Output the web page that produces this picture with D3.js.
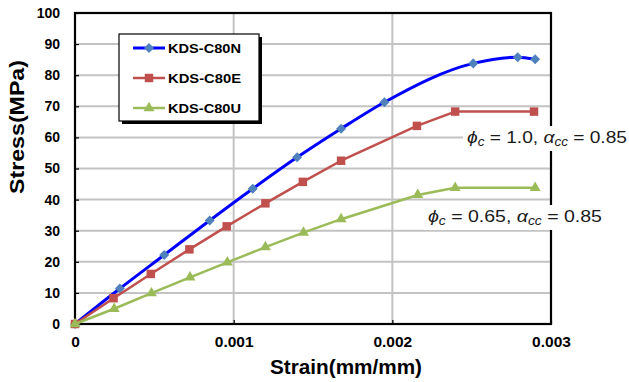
<!DOCTYPE html>
<html>
<head>
<meta charset="utf-8">
<script src="https://cdn.jsdelivr.net/npm/d3@7"></script>
<style>
  html, body { margin: 0; padding: 0; background: #fff; }
  svg { display: block; }
  text { font-family: "Liberation Sans", Arial, sans-serif; }
</style>
</head>
<body>
<svg id="chart" width="629" height="382"></svg>
<script>
// Stress–strain curves for the three KDS-C80 models
const seriesNames = ["KDS-C80N", "KDS-C80E", "KDS-C80U"];

const nStrain = [0, 0.000283, 0.000562, 0.000849, 0.00112, 0.0014, 0.001677, 0.00195, 0.00251, 0.00279, 0.0029];
const nStress = [0, 11.4, 22.2, 33.3, 43.5, 53.6, 62.8, 71.3, 83.8, 85.8, 85.1];

const eStrain = [0, 0.000243, 0.000478, 0.000721, 0.000956, 0.0012, 0.001436, 0.001677, 0.002155, 0.002396, 0.002893];
const eStress = [0, 8.3, 16.1, 24.0, 31.4, 38.8, 45.7, 52.5, 63.7, 68.3, 68.3];

const uStrain = [0, 0.000247, 0.000482, 0.000725, 0.00096, 0.0012, 0.00144, 0.001677, 0.00216, 0.002396, 0.0029];
const uStress = [0, 4.9, 9.9, 15.0, 19.8, 24.7, 29.4, 33.7, 41.5, 43.8, 43.8];

const xTicks = [0, 0.001, 0.002, 0.003];
const xTickLabels = ["0", "0.001", "0.002", "0.003"];
const yTicks = [0, 10, 20, 30, 40, 50, 60, 70, 80, 90, 100];

const svg = d3.select("#chart");
const L = 75, R = 551, T = 13, B = 324;

const x = d3.scaleLinear().domain([0, 0.003]).range([L, R]);
const y = d3.scaleLinear().domain([0, 100]).range([B, T]);

// gridlines
const grid = svg.append("g");
grid.selectAll("line.h").data(yTicks).join("line")
  .attr("x1", L).attr("x2", R)
  .attr("y1", d => y(d)).attr("y2", d => y(d))
  .attr("stroke", "#c3c3c3").attr("stroke-width", 2);
grid.selectAll("line.v").data(xTicks.slice(1, -1)).join("line")
  .attr("x1", d => x(d)).attr("x2", d => x(d))
  .attr("y1", T).attr("y2", B)
  .attr("stroke", "#c3c3c3").attr("stroke-width", 2);

// axes with inward ticks
const yAxis = d3.axisLeft(y).tickValues(yTicks).tickSize(-4).tickPadding(15).tickFormat(d3.format("d"));
const gy = svg.append("g").attr("transform", `translate(${L},0)`).call(yAxis);
gy.select(".domain").remove();
gy.selectAll(".tick line").attr("stroke", "#000").attr("stroke-width", 1.2);
gy.selectAll(".tick text").attr("font-size", 14).attr("font-weight", "bold")
  .attr("fill", "#000").attr("font-family", "Liberation Sans, Arial, sans-serif");

const xAxis = d3.axisBottom(x).tickValues(xTicks).tickSize(-4).tickPadding(12)
  .tickFormat((d, i) => xTickLabels[i]);
const gx = svg.append("g").attr("transform", `translate(0,${B})`).call(xAxis);
gx.select(".domain").remove();
gx.selectAll(".tick line").attr("stroke", "#000").attr("stroke-width", 1.2);
gx.selectAll(".tick text").attr("font-size", 15.5).attr("font-weight", "bold")
  .attr("fill", "#000").attr("font-family", "Liberation Sans, Arial, sans-serif");

// plot frame
svg.append("rect").attr("x", L).attr("y", T).attr("width", R - L).attr("height", B - T)
  .attr("fill", "none").attr("stroke", "#000").attr("stroke-width", 2.2);

// axis titles
svg.append("text").attr("transform", "translate(24,127) rotate(-90)")
  .attr("text-anchor", "middle").attr("font-size", 21).attr("font-weight", "bold")
  .attr("textLength", 134).attr("lengthAdjust", "spacingAndGlyphs")
  .text("Stress(MPa)");
svg.append("text").attr("x", 346).attr("y", 374)
  .attr("text-anchor", "middle").attr("font-size", 20).attr("font-weight", "bold")
  .attr("textLength", 152).attr("lengthAdjust", "spacingAndGlyphs")
  .text("Strain(mm/mm)");

// series
const series = [
  { name: seriesNames[0], xs: nStrain, ys: nStress, line: "#0000ff", mark: "#4f81bd", width: 3, shape: "diamond", curve: d3.curveMonotoneX },
  { name: seriesNames[1], xs: eStrain, ys: eStress, line: "#c0504d", mark: "#c0504d", width: 2.5, shape: "square", curve: d3.curveLinear },
  { name: seriesNames[2], xs: uStrain, ys: uStress, line: "#9bbb59", mark: "#9bbb59", width: 2.5, shape: "triangle", curve: d3.curveLinear }
];

function markerPath(shape) {
  if (shape === "diamond") return d3.symbol(d3.symbolDiamond2, 64)();
  if (shape === "square") return d3.symbol(d3.symbolSquare, 72)();
  return d3.symbol(d3.symbolTriangle, 52)();
}

series.forEach(s => {
  const pts = s.xs.map((v, i) => [v, s.ys[i]]);
  const g = svg.append("g");
  g.append("path").datum(pts)
    .attr("d", d3.line().x(d => x(d[0])).y(d => y(d[1])).curve(s.curve))
    .attr("fill", "none").attr("stroke", s.line).attr("stroke-width", s.width)
    .attr("stroke-linejoin", "round");
  g.selectAll("path.m").data(pts).join("path")
    .attr("class", "m")
    .attr("d", markerPath(s.shape))
    .attr("transform", d => `translate(${x(d[0])},${y(d[1])})`)
    .attr("fill", s.mark);
});

// legend
const lg = svg.append("g");
lg.append("rect").attr("x", 122).attr("y", 37).attr("width", 140).attr("height", 87).attr("fill", "#000");
lg.append("rect").attr("x", 119).attr("y", 34).attr("width", 140).attr("height", 87)
  .attr("fill", "#fff").attr("stroke", "#000").attr("stroke-width", 1.2);
series.forEach((s, i) => {
  const ly = 48 + i * 30;
  lg.append("line").attr("x1", 133).attr("x2", 165).attr("y1", ly).attr("y2", ly)
    .attr("stroke", s.line).attr("stroke-width", s.width);
  lg.append("path").attr("d", markerPath(s.shape))
    .attr("transform", `translate(149,${ly})`).attr("fill", s.mark);
  lg.append("text").attr("x", 168).attr("y", ly + 5)
    .attr("font-size", 13.5).attr("font-weight", "bold")
    .attr("textLength", 73).attr("lengthAdjust", "spacingAndGlyphs")
    .text(s.name);
});

// design-factor annotations
function annotate(xStart, yMid, phi, width) {
  const g = svg.append("g");
  const bg = g.append("rect").attr("fill", "#fff");
  const t = g.append("text").attr("x", xStart).attr("y", yMid + 5)
    .attr("font-family", "DejaVu Serif, Liberation Serif, serif").attr("font-size", 17).attr("fill", "#1a1a1a")
    .attr("textLength", width).attr("lengthAdjust", "spacingAndGlyphs");
  t.append("tspan").attr("font-style", "italic").text("ϕ");
  t.append("tspan").attr("font-style", "italic").attr("font-size", 12).attr("dy", 3).text("c");
  t.append("tspan").attr("dy", -3).text(" = " + phi + ", ");
  t.append("tspan").attr("font-style", "italic").text("α");
  t.append("tspan").attr("font-style", "italic").attr("font-size", 12).attr("dy", 3).text("cc");
  t.append("tspan").attr("dy", -3).text(" = 0.85");
  const bb = t.node().getBBox();
  bg.attr("x", bb.x - 4).attr("y", bb.y - 2).attr("width", bb.width + 8).attr("height", bb.height + 4);
}
annotate(467, 138, "1.0", 160);
annotate(428, 217, "0.65", 174);
</script>
</body>
</html>
